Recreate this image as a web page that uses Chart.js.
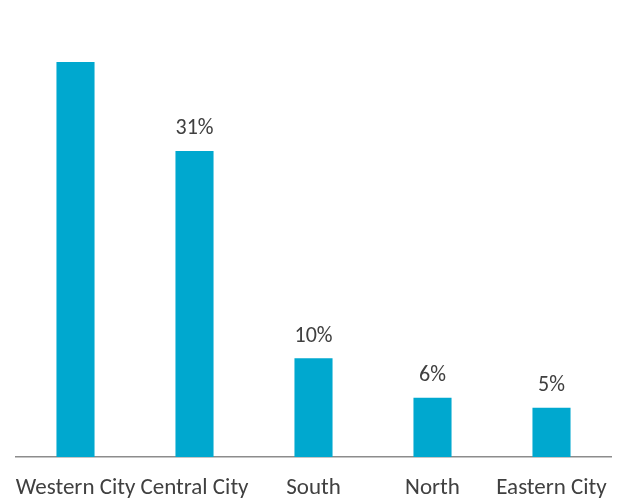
<!DOCTYPE html>
<html>
<head>
<meta charset="utf-8">
<script src="https://cdn.jsdelivr.net/npm/chart.js@4.4.1/dist/chart.umd.min.js"></script>
<style>
    html, body { margin: 0; padding: 0; background: #fff; }
    #regionChart { display: block; }
</style>
</head>
<body>
<canvas id="regionChart" width="619" height="502"></canvas>
<script>
const regions = ['Western City', 'Central City', 'South', 'North', 'Eastern City'];
const shares = [40, 31, 10, 6, 5];
// the top bar's label sits outside the plot, so it is left off
const shareLabels = [null, '31%', '10%', '6%', '5%'];

const labelFont = "'Carlito', 'Lato', sans-serif";

// Draw percentage labels above each bar
const barLabels = {
    id: 'barLabels',
    afterDatasetsDraw(chart) {
        const ctx = chart.ctx;
        const meta = chart.getDatasetMeta(0);
        ctx.save();
        ctx.font = `22px ${labelFont}`;
        ctx.fillStyle = '#404040';
        ctx.textAlign = 'center';
        ctx.textBaseline = 'middle';
        meta.data.forEach((bar, i) => {
            if (!shareLabels[i]) return;
            ctx.fillText(shareLabels[i], bar.x, bar.y - 22);
        });
        ctx.restore();
    }
};

new Chart(document.getElementById('regionChart'), {
    type: 'bar',
    data: {
        labels: regions,
        datasets: [{
            data: shares,
            backgroundColor: '#00a8cf',
            categoryPercentage: 1,
            barPercentage: 0.32
        }]
    },
    options: {
        responsive: false,
        animation: false,
        layout: {
            padding: { left: 16, right: 8, top: 62, bottom: 0 }
        },
        plugins: {
            legend: { display: false },
            tooltip: { enabled: false }
        },
        scales: {
            x: {
                grid: { display: false, drawTicks: false },
                border: { color: '#8c8c8c', width: 1.5 },
                ticks: {
                    color: '#404040',
                    font: { family: labelFont, size: 23 },
                    padding: 17,
                    autoSkip: false,
                    maxRotation: 0,
                    minRotation: 0
                },
                // fixed axis band; labels may run to the canvas edges
                afterFit(scale) {
                    scale.height = 45;
                    scale.paddingLeft = 0;
                    scale.paddingRight = 0;
                }
            },
            y: {
                display: false,
                min: 0,
                max: 40
            }
        }
    },
    plugins: [barLabels]
});
</script>
</body>
</html>
